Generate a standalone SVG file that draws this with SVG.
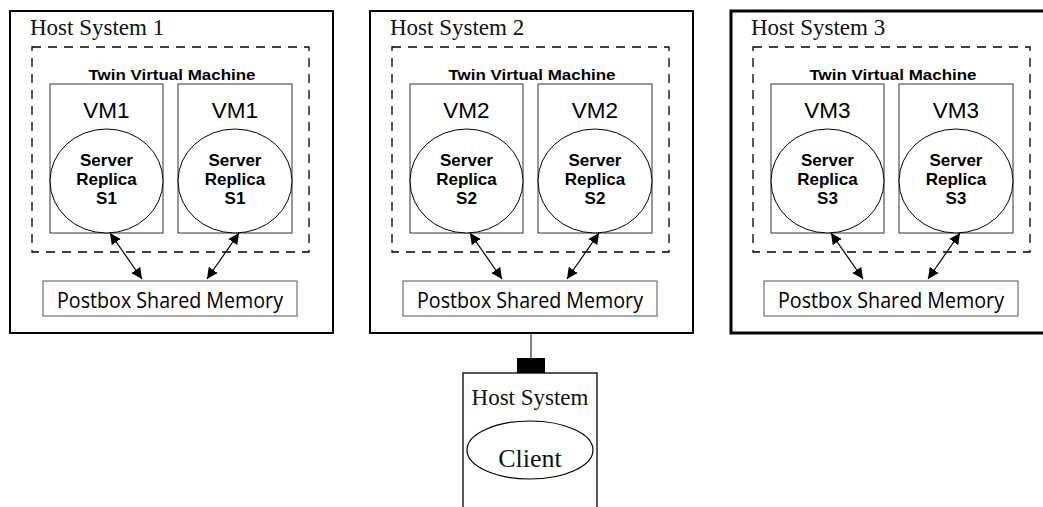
<svg xmlns="http://www.w3.org/2000/svg" width="1043" height="507" viewBox="0 0 1043 507">
<style>
.host{fill:#fff;stroke:#000;stroke-width:2}
.dash{fill:none;stroke:#000;stroke-width:1.3;stroke-dasharray:9,7}
.vm{fill:#fff;stroke:#333;stroke-width:1}
.srv{fill:#fff;stroke:#000;stroke-width:1}
.pb{fill:#fff;stroke:#555;stroke-width:1}
.ht{font-family:"Liberation Serif",serif;font-size:23px;fill:#111}
.tw{font-family:"Liberation Sans",Arial,sans-serif;font-weight:bold;font-size:15px;text-anchor:middle}
.vmt{font-family:"Liberation Sans",Arial,sans-serif;font-size:22.5px;text-anchor:middle}
.st{font-family:"Liberation Sans",Arial,sans-serif;font-weight:bold;font-size:17px;text-anchor:middle}
.pt{font-family:"Open Sans","Liberation Sans",sans-serif;font-size:21px;text-anchor:middle}
.arr{stroke:#000;stroke-width:1.2;marker-start:url(#ah);marker-end:url(#ah)}
</style>
<defs>
<marker id="ah" viewBox="0 0 10 10" refX="10" refY="5" markerWidth="11" markerHeight="11" markerUnits="userSpaceOnUse" orient="auto-start-reverse">
<path d="M0,0 L10,5 L0,10 z" fill="#000"/>
</marker>
<g id="hostTpl">
<rect class="host" x="10" y="11" width="323" height="322"/>
<rect class="dash" x="32" y="47" width="277" height="205"/>
<text class="tw" x="172" y="80" textLength="167" lengthAdjust="spacingAndGlyphs">Twin Virtual Machine</text>
<rect class="vm" x="50" y="84" width="113" height="149"/>
<rect class="vm" x="178" y="84" width="114" height="149"/>
<ellipse class="srv" cx="106.5" cy="181" rx="56.5" ry="52"/>
<ellipse class="srv" cx="235" cy="181" rx="57" ry="52"/>
<rect class="pb" x="43" y="281" width="254" height="35"/>
<text class="pt" x="170" y="308" textLength="226" lengthAdjust="spacingAndGlyphs">Postbox Shared Memory</text>
</g>
</defs>
<rect width="1043" height="507" fill="#fff"/>

<g id="host1">
<use href="#hostTpl"/>
<text class="ht" x="30" y="35">Host System 1</text>
<text class="vmt" x="106.5" y="118">VM1</text>
<text class="vmt" x="235" y="118">VM1</text>
<text class="st" x="106.5" y="166">Server</text>
<text class="st" x="106.5" y="185">Replica</text>
<text class="st" x="106.5" y="204">S1</text>
<text class="st" x="235" y="166">Server</text>
<text class="st" x="235" y="185">Replica</text>
<text class="st" x="235" y="204">S1</text>
</g>

<g id="host2" transform="translate(360,0)">
<use href="#hostTpl"/>
<text class="ht" x="30" y="35">Host System 2</text>
<text class="vmt" x="106.5" y="118">VM2</text>
<text class="vmt" x="235" y="118">VM2</text>
<text class="st" x="106.5" y="166">Server</text>
<text class="st" x="106.5" y="185">Replica</text>
<text class="st" x="106.5" y="204">S2</text>
<text class="st" x="235" y="166">Server</text>
<text class="st" x="235" y="185">Replica</text>
<text class="st" x="235" y="204">S2</text>
</g>

<g id="host3" transform="translate(721,0)">
<rect class="host" x="10" y="11" width="330" height="322" style="stroke-width:3"/>
<rect class="dash" x="32" y="47" width="277" height="205"/>
<text class="tw" x="172" y="80" textLength="167" lengthAdjust="spacingAndGlyphs">Twin Virtual Machine</text>
<rect class="vm" x="50" y="84" width="113" height="149"/>
<rect class="vm" x="178" y="84" width="114" height="149"/>
<ellipse class="srv" cx="106.5" cy="181" rx="56.5" ry="52"/>
<ellipse class="srv" cx="235" cy="181" rx="57" ry="52"/>
<rect class="pb" x="43" y="281" width="254" height="35"/>
<text class="pt" x="170" y="308" textLength="226" lengthAdjust="spacingAndGlyphs">Postbox Shared Memory</text>
<text class="ht" x="30" y="35">Host System 3</text>
<text class="vmt" x="106.5" y="118">VM3</text>
<text class="vmt" x="235" y="118">VM3</text>
<text class="st" x="106.5" y="166">Server</text>
<text class="st" x="106.5" y="185">Replica</text>
<text class="st" x="106.5" y="204">S3</text>
<text class="st" x="235" y="166">Server</text>
<text class="st" x="235" y="185">Replica</text>
<text class="st" x="235" y="204">S3</text>
</g>

<g id="client">
<rect x="463" y="373" width="134" height="150" fill="#fff" stroke="#000" stroke-width="1.3"/>
<text class="ht" x="530" y="405" text-anchor="middle">Host System</text>
<ellipse cx="530" cy="450" rx="63" ry="29" fill="#fff" stroke="#000" stroke-width="1.2"/>
<text class="ht" x="530" y="467" text-anchor="middle" style="font-size:26px">Client</text>
</g>

<g id="connectors">
<line class="arr" x1="110" y1="233" x2="142" y2="279"/>
<line class="arr" x1="239" y1="233" x2="207" y2="279"/>
<line class="arr" x1="470" y1="233" x2="502" y2="279"/>
<line class="arr" x1="599" y1="233" x2="567" y2="279"/>
<line class="arr" x1="831" y1="233" x2="863" y2="279"/>
<line class="arr" x1="960" y1="233" x2="928" y2="279"/>
<line x1="531" y1="334" x2="531" y2="358" stroke="#000" stroke-width="1"/>
<rect x="517" y="358" width="28" height="15" fill="#000"/>
</g>
</svg>
